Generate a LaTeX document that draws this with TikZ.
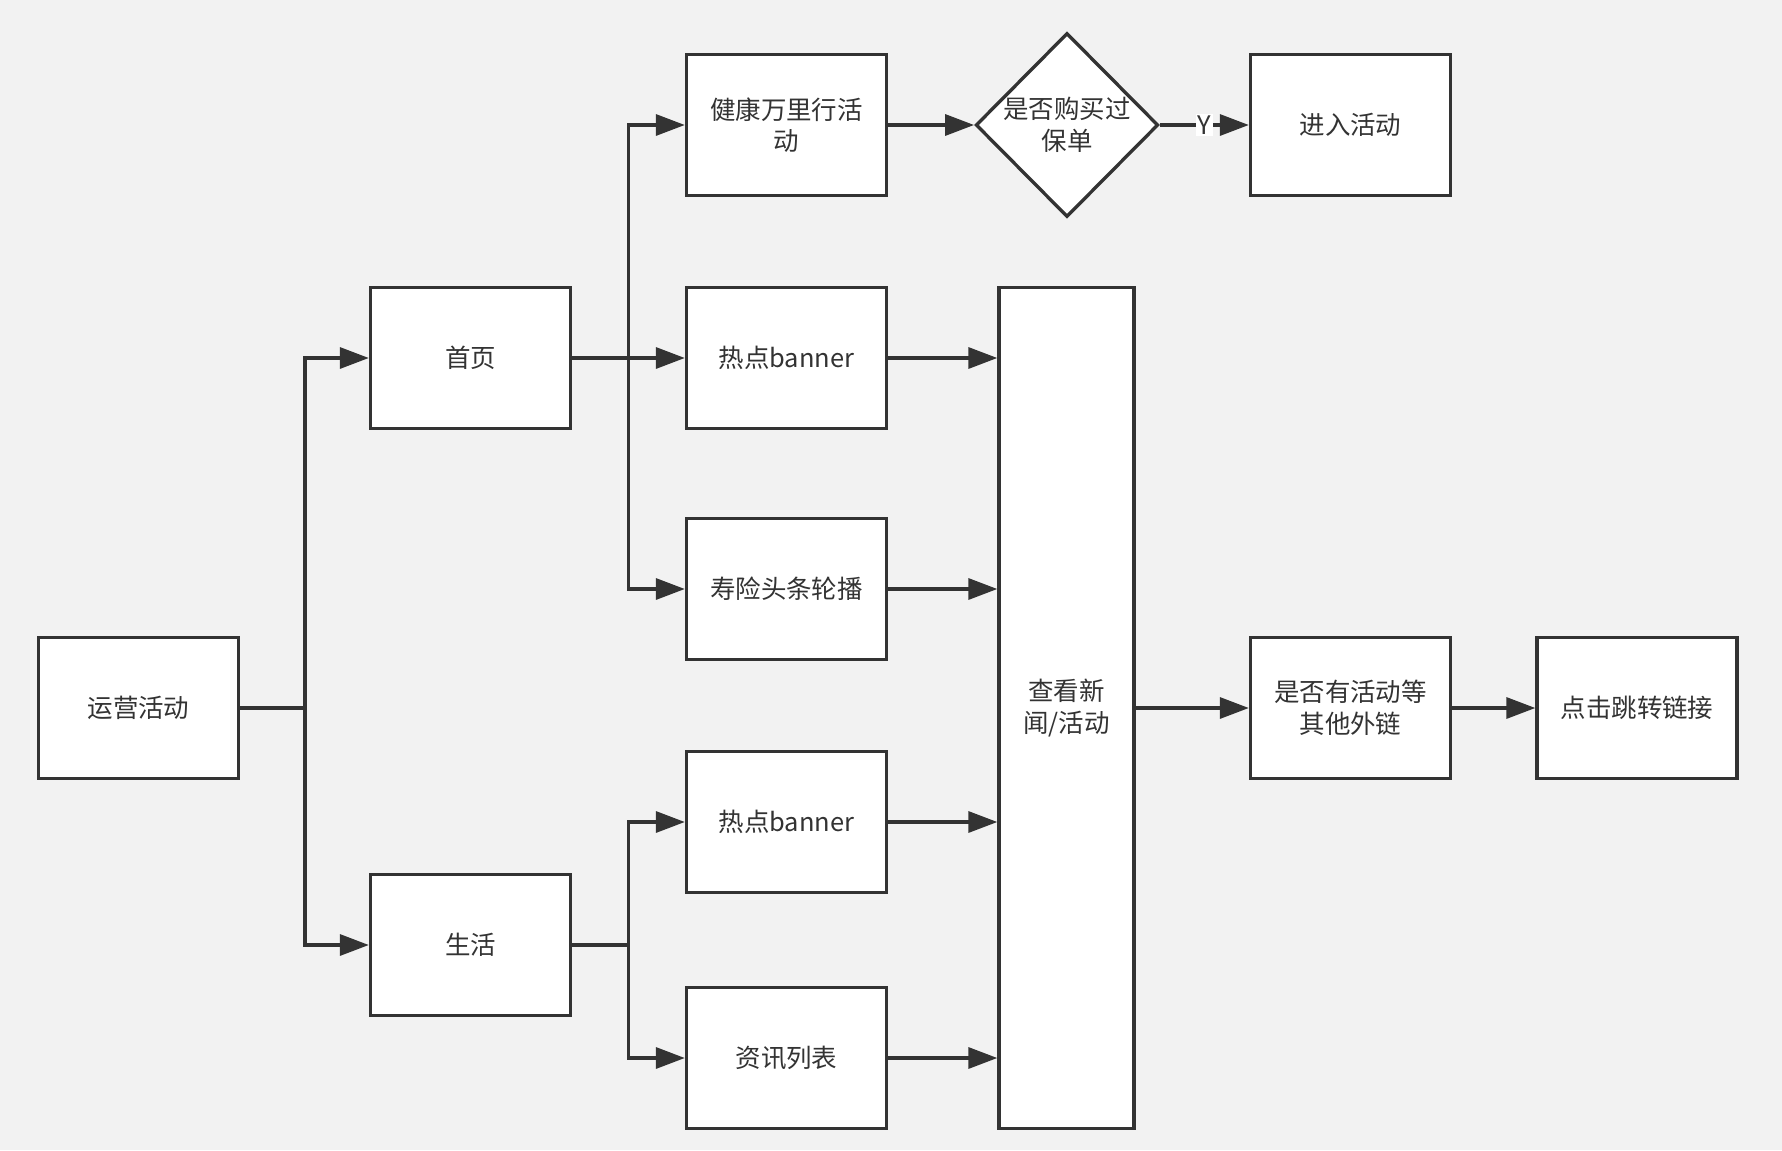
\documentclass[tikz,border=0pt]{standalone}
\usepackage{fontspec}
\setmainfont{Noto Sans CJK SC}
\usepackage{tikz}
\usetikzlibrary{arrows.meta,positioning,calc,shapes.geometric}
\usepackage{xcolor}
\definecolor{bgc}{HTML}{F2F2F2}
\definecolor{ink}{HTML}{333333}

\begin{document}
\begin{tikzpicture}[
  font=\fontsize{14.5pt}{18pt}\selectfont,
  blk/.style={draw=ink, line width=1.9pt, fill=white, text=ink, minimum width=4cm, minimum height=2.82cm, align=center, inner sep=2pt},
  tall/.style={blk, minimum width=2.7cm, minimum height=16.82cm},
  dec/.style={draw=ink, line width=1.9pt, fill=white, text=ink, diamond, align=center, inner sep=0pt, minimum width=3.5cm, minimum height=3.68cm},
  con/.style={draw=ink, line width=1.9pt},
  >={Triangle[length=5.8mm, width=4.2mm]}
]
% background and page size
\fill[bgc] (0,0) rectangle (35.64,-23);
\useasboundingbox (0,0) rectangle (35.64,-23);

% Start
\node[blk] (yunying) at (2.77,-14.16) {运营活动};

% Channels
\node[blk] (shouye)   at (9.41,-7.16) {首页};
\node[blk] (shenghuo) at (9.41,-18.9) {生活};
\coordinate (b1) at (6.1,-14.16);
\draw[con] (yunying.east) -- (b1);
\draw[con, ->] (b1) |- (shouye.west);
\draw[con, ->] (b1) |- (shenghuo.west);

% Entries on the home page
\node[blk] (jiankang) at (15.73,-2.5)   {健康万里行活\\动};
\node[blk] (redian1)  at (15.73,-7.16)  {热点banner};
\node[blk] (shouxian) at (15.73,-11.78) {寿险头条轮播};
\coordinate (b2) at (12.57,-7.16);
\draw[con] (shouye.east) -- (b2);
\draw[con, ->] (b2) |- (jiankang.west);
\draw[con, ->] (b2) -- (redian1.west);
\draw[con, ->] (b2) |- (shouxian.west);

% Entries on the life page
\node[blk] (redian2) at (15.73,-16.44) {热点banner};
\node[blk] (zixun)   at (15.73,-21.16) {资讯列表};
\coordinate (b3) at (12.57,-18.9);
\draw[con] (shenghuo.east) -- (b3);
\draw[con, ->] (b3) |- (redian2.west);
\draw[con, ->] (b3) |- (zixun.west);

% Activity branch
\node[dec] (goumai) at (21.34,-2.5) {是否购买过\\保单};
\node[blk] (jinru)  at (27.01,-2.5) {进入活动};
\draw[con, ->] (jiankang.east) -- (goumai.west);
\draw[con, ->] (goumai.east) -- node[fill=white, text=ink, inner sep=1pt]{Y} (jinru.west);

% News / activity view
\node[tall] (chakan) at (21.33,-14.16) {查看新\\闻/活动};
\draw[con, ->] (redian1.east)  -- (redian1.east -| chakan.west);
\draw[con, ->] (shouxian.east) -- (shouxian.east -| chakan.west);
\draw[con, ->] (redian2.east)  -- (redian2.east -| chakan.west);
\draw[con, ->] (zixun.east)    -- (zixun.east -| chakan.west);

% Outgoing links
\node[blk] (waili)  at (27.01,-14.16) {是否有活动等\\其他外链};
\node[blk] (dianji) at (32.74,-14.16) {点击跳转链接};
\draw[con, ->] (chakan.east) -- (waili.west);
\draw[con, ->] (waili.east) -- (dianji.west);

\end{tikzpicture}
\end{document}
